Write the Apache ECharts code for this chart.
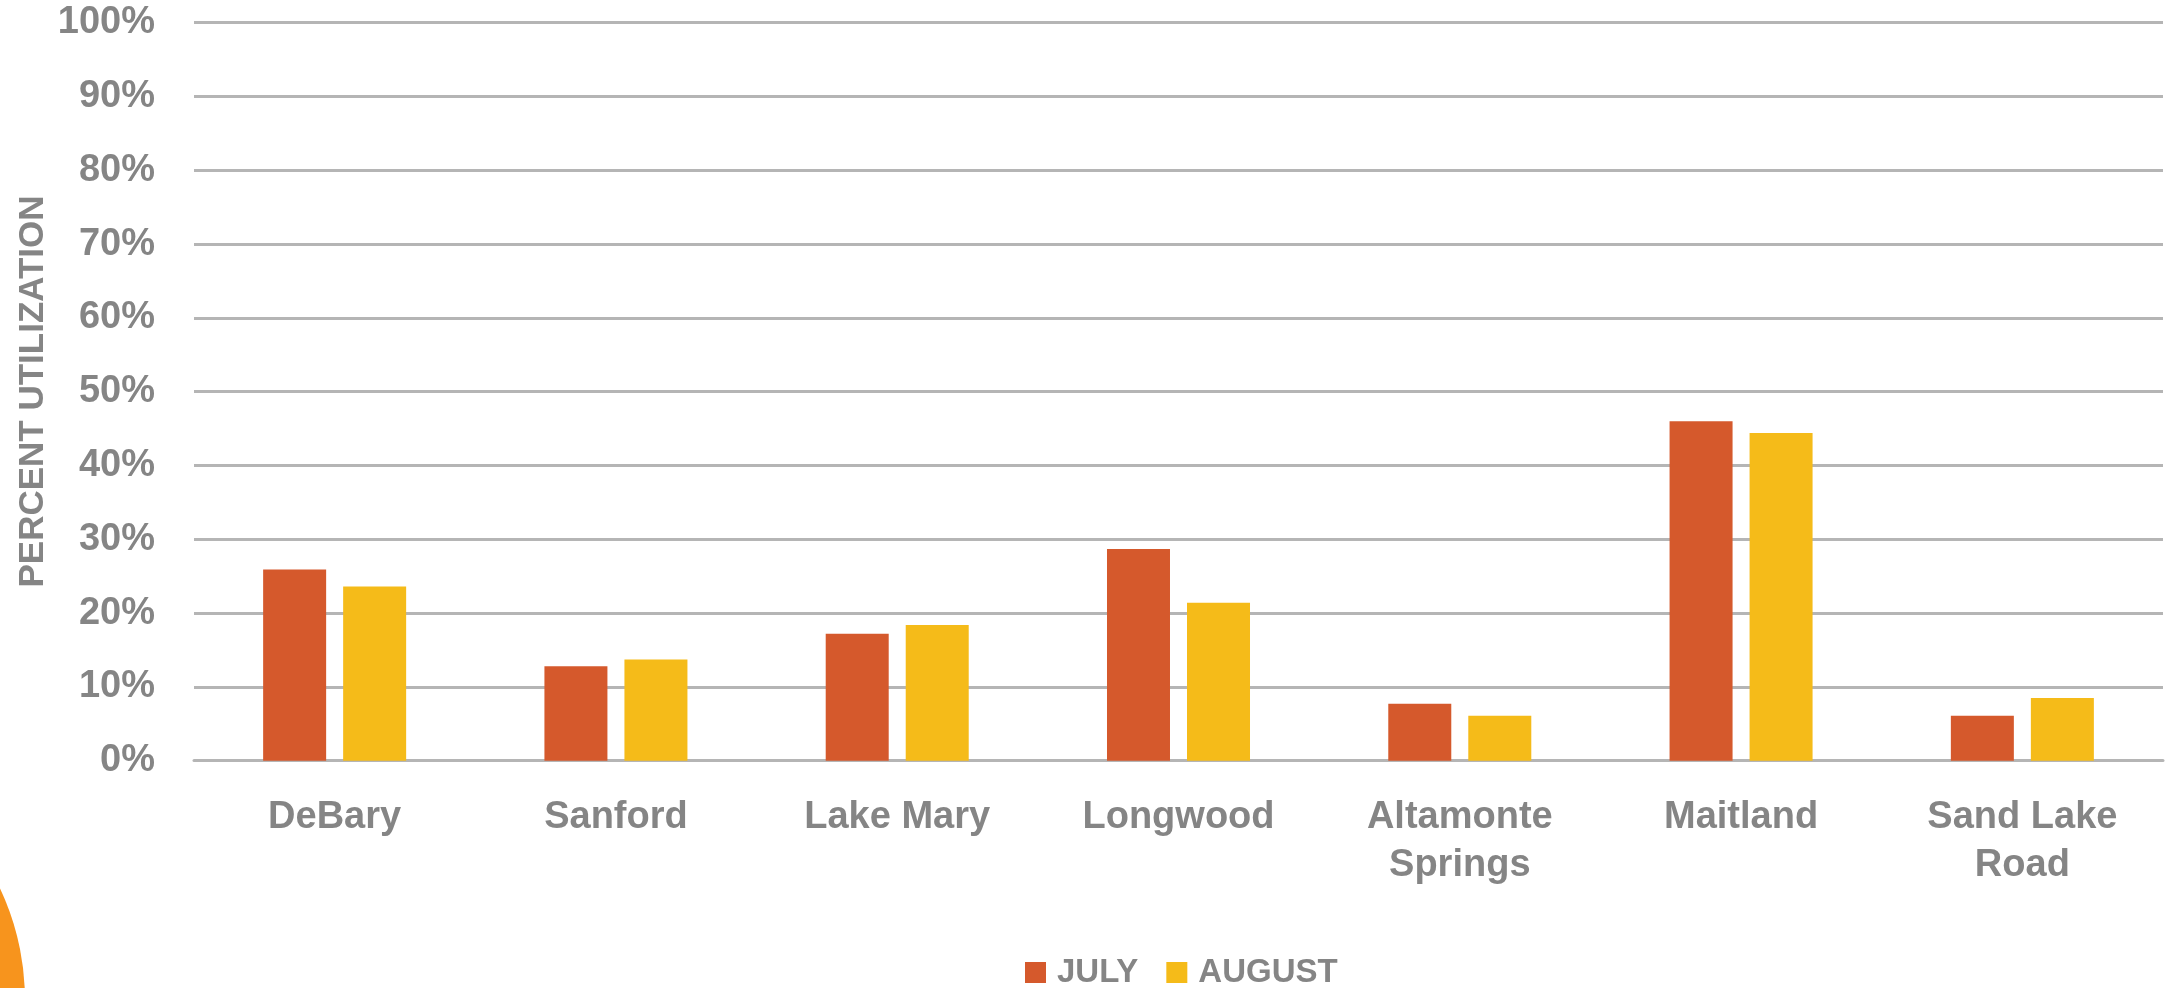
<!DOCTYPE html>
<html>
<head>
<meta charset="utf-8">
<script src="https://cdn.jsdelivr.net/npm/echarts@6/dist/echarts.min.js"></script>
<style>
  html, body { margin: 0; padding: 0; background: #ffffff; }
  #chart { width: 2179px; height: 988px; }
</style>
</head>
<body>
<div id="chart"></div>
<script>
// Station parking utilization by month
const stations = ['DeBary', 'Sanford', 'Lake Mary', 'Longwood', 'Altamonte\nSprings', 'Maitland', 'Sand Lake\nRoad'];
const july = [25.9, 12.8, 17.2, 28.7, 7.7, 46.0, 6.1];
const august = [23.6, 13.7, 18.4, 21.4, 6.1, 44.4, 8.5];
const seriesNames = ['JULY', 'AUGUST'];
const yTitle = 'PERCENT UTILIZATION';

const FONT = '"Liberation Sans", Arial, sans-serif';
const GREY = '#858585';
const GRID_GREY = '#b5b5b5';

const chart = echarts.init(document.getElementById('chart'), null, { renderer: 'canvas' });

chart.setOption({
  backgroundColor: '#ffffff',
  animation: false,
  textStyle: { fontFamily: FONT },
  grid: { left: 194, right: 16, top: 22.7, bottom: 227.3 },
  legend: {
    data: seriesNames,
    left: 1025,
    top: 956,
    padding: 0,
    itemWidth: 21,
    itemHeight: 21,
    itemGap: 28,
    icon: 'rect',
    textStyle: { fontFamily: FONT, fontSize: 33, fontWeight: 'bold', color: GREY, padding: [3, 0, 0, 6] }
  },
  xAxis: {
    type: 'category',
    data: stations,
    axisLine: { lineStyle: { color: GRID_GREY, width: 3 } },
    axisTick: { show: false },
    axisLabel: {
      interval: 0,
      margin: 33,
      fontFamily: FONT,
      fontSize: 38,
      fontWeight: 'bold',
      color: GREY,
      lineHeight: 48
    }
  },
  yAxis: {
    type: 'value',
    min: 0,
    max: 100,
    interval: 10,
    axisLine: { show: false },
    axisTick: { show: false },
    splitLine: { lineStyle: { color: GRID_GREY, width: 3 } },
    axisLabel: {
      formatter: '{value}%',
      margin: 39,
      fontFamily: FONT,
      fontSize: 38,
      fontWeight: 'bold',
      color: GREY
    }
  },
  series: [
    {
      name: seriesNames[0],
      type: 'bar',
      data: july,
      barWidth: 63,
      barGap: '27%',
      itemStyle: { color: '#d5592c' }
    },
    {
      name: seriesNames[1],
      type: 'bar',
      data: august,
      barWidth: 63,
      barGap: '27%',
      itemStyle: { color: '#f5bb19' }
    }
  ],
  graphic: [
    {
      type: 'text',
      x: 33,
      y: 391.5,
      rotation: Math.PI / 2,
      style: {
        text: yTitle,
        fontFamily: FONT,
        fontSize: 35,
        fontWeight: 'bold',
        fill: GREY,
        align: 'center',
        verticalAlign: 'middle'
      }
    },
    {
      type: 'circle',
      shape: { cx: -236, cy: 1000, r: 261 },
      style: { fill: '#f7941d' },
      z: 0
    }
  ]
});
</script>
</body>
</html>
